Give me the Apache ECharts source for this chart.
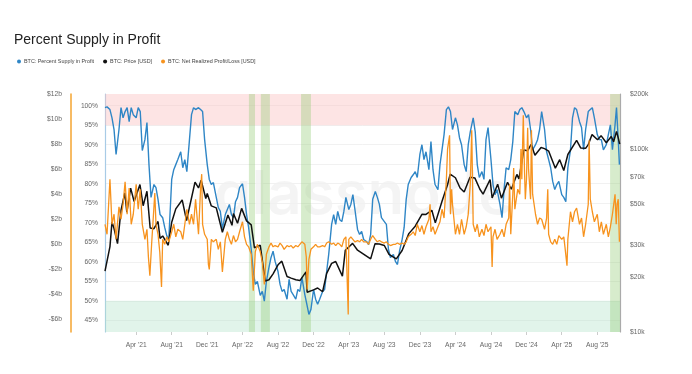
<!DOCTYPE html>
<html><head><meta charset="utf-8">
<script src="https://cdn.jsdelivr.net/npm/echarts@6/dist/echarts.min.js"></script>
<style>html,body{margin:0;padding:0;background:#fff}#c{width:692px;height:374px}</style>
</head><body><div id="c"></div>
<script>
// ---------- DATA ----------
const pctDates = ['2020-12-15','2020-12-22','2021-01-01','2021-01-08','2021-01-15','2021-01-22','2021-02-01','2021-02-08','2021-02-15','2021-02-22','2021-03-01','2021-03-08','2021-03-15','2021-03-22','2021-04-01','2021-04-08','2021-04-15','2021-04-22','2021-05-01','2021-05-08','2021-05-15','2021-05-22','2021-06-01','2021-06-08','2021-06-15','2021-06-22','2021-07-01','2021-07-08','2021-07-15','2021-07-22','2021-08-01','2021-08-08','2021-08-15','2021-08-22','2021-09-01','2021-09-08','2021-09-15','2021-09-22','2021-10-01','2021-10-08','2021-10-15','2021-10-22','2021-11-01','2021-11-08','2021-11-15','2021-11-22','2021-12-01','2021-12-08','2021-12-15','2021-12-22',
'2022-01-01','2022-01-08','2022-01-15','2022-01-22','2022-02-01','2022-02-08','2022-02-15','2022-02-22','2022-03-01','2022-03-08','2022-03-15','2022-03-22','2022-04-01','2022-04-08','2022-04-15','2022-04-22','2022-05-01','2022-05-08','2022-05-15','2022-05-22','2022-06-01','2022-06-08','2022-06-15','2022-06-22','2022-07-01','2022-07-08','2022-07-15','2022-07-22','2022-08-01','2022-08-08','2022-08-15','2022-08-22','2022-09-01','2022-09-08','2022-09-15','2022-09-22','2022-10-01','2022-10-08','2022-10-15','2022-10-22','2022-11-01','2022-11-08','2022-11-15','2022-11-22','2022-12-01','2022-12-08','2022-12-15','2022-12-22',
'2023-01-01','2023-01-08','2023-01-15','2023-01-22','2023-02-01','2023-02-08','2023-02-15','2023-02-22','2023-03-01','2023-03-08','2023-03-15','2023-03-22','2023-04-01','2023-04-08','2023-04-15','2023-04-22','2023-05-01','2023-05-08','2023-05-15','2023-05-22','2023-06-01','2023-06-08','2023-06-15','2023-06-22','2023-07-01','2023-07-08','2023-07-15','2023-07-22','2023-08-01','2023-08-08','2023-08-15','2023-08-22','2023-09-01','2023-09-08','2023-09-15','2023-09-22','2023-10-01','2023-10-08','2023-10-15','2023-10-22','2023-11-01','2023-11-08','2023-11-15','2023-11-22','2023-12-01','2023-12-08','2023-12-15','2023-12-22',
'2024-01-01','2024-01-08','2024-01-15','2024-01-22','2024-02-01','2024-02-08','2024-02-15','2024-02-22','2024-03-01','2024-03-08','2024-03-15','2024-03-22','2024-04-01','2024-04-08','2024-04-15','2024-04-22','2024-05-01','2024-05-08','2024-05-15','2024-05-22','2024-06-01','2024-06-08','2024-06-15','2024-06-22','2024-07-01','2024-07-08','2024-07-15','2024-07-22','2024-08-01','2024-08-08','2024-08-15','2024-08-22','2024-09-01','2024-09-08','2024-09-15','2024-09-22','2024-10-01','2024-10-08','2024-10-15','2024-10-22','2024-11-01','2024-11-08','2024-11-15','2024-11-22','2024-12-01','2024-12-08','2024-12-15','2024-12-22',
'2025-01-01','2025-01-08','2025-01-15','2025-01-22','2025-02-01','2025-02-08','2025-02-15','2025-02-22','2025-03-01','2025-03-08','2025-03-15','2025-03-22','2025-04-01','2025-04-08','2025-04-15','2025-04-22','2025-05-01','2025-05-08','2025-05-15','2025-05-22','2025-06-01','2025-06-08','2025-06-15','2025-06-22','2025-07-01','2025-07-08','2025-07-15','2025-07-22','2025-08-01','2025-08-08','2025-08-15','2025-08-22','2025-09-01','2025-09-08','2025-09-15','2025-09-22','2025-10-01','2025-10-06','2025-10-12','2025-10-16'];
const pctValues = [99.5,99.7,99.0,96.9,93.9,87.5,93.9,99.5,96.9,98.5,99.5,95.9,99.5,97.7,96.9,99.5,98.5,88.5,91.3,95.7,84.9,76.5,79.8,79.0,76.0,72.1,71.3,68.8,66.7,65.7,81.1,83.6,84.9,86.2,88.2,84.1,86.2,83.1,91.3,97.7,99.5,99.0,99.5,99.0,98.5,91.3,84.9,81.1,79.8,80.3,
76.5,73.9,72.9,68.5,72.1,73.4,74.7,72.1,71.3,75.4,76.5,79.0,80.0,76.5,72.1,68.8,63.2,57.5,54.2,55.0,51.4,52.4,49.9,55.0,58.6,61.1,62.7,60.1,57.5,54.2,52.4,52.9,50.4,55.5,52.4,51.6,50.4,52.9,52.4,56.0,51.6,49.1,46.5,47.8,52.9,50.4,49.1,50.4,
52.4,52.9,57.5,61.9,69.6,72.1,69.6,72.9,70.8,70.3,72.9,76.5,73.4,74.7,77.2,73.4,68.3,67.0,67.8,65.7,65.2,64.4,67.0,76.0,78.0,76.5,74.7,71.3,70.3,69.6,63.2,61.1,61.9,60.1,59.3,62.7,65.7,68.8,76.0,79.8,81.6,82.3,83.1,81.6,87.5,90.0,86.2,88.2,
83.6,90.8,83.6,79.8,78.5,84.9,88.7,92.6,99.0,99.7,98.5,93.9,96.9,95.1,91.8,90.0,84.9,83.1,90.0,93.3,96.9,93.3,84.9,81.6,83.1,81.1,91.3,94.4,86.2,79.8,77.2,78.5,74.7,71.3,78.5,84.1,83.6,86.2,90.8,98.5,97.7,99.0,99.5,98.5,96.9,97.7,93.9,88.7,
90.0,91.3,93.9,98.5,93.9,88.2,86.2,84.1,80.6,78.5,79.8,80.6,77.2,76.5,75.4,84.1,88.7,96.9,99.5,99.0,95.9,94.4,88.7,93.9,98.5,99.0,99.5,96.9,92.6,91.3,91.3,88.7,90.0,92.6,95.1,88.7,95.1,99.5,91.3,84.9];

const priceDates = ['2020-12-15','2021-01-01','2021-01-08','2021-01-15','2021-01-27','2021-02-08','2021-02-21','2021-02-28','2021-03-13','2021-03-25','2021-04-14','2021-04-25','2021-05-08','2021-05-19','2021-06-01','2021-06-15','2021-06-22','2021-07-01','2021-07-20','2021-08-01','2021-08-15','2021-09-06','2021-09-21','2021-10-01','2021-10-20','2021-11-01','2021-11-10','2021-11-26','2021-12-01','2021-12-15',
'2022-01-01','2022-01-22','2022-02-10','2022-02-24','2022-03-01','2022-03-15','2022-03-29','2022-04-15','2022-05-01','2022-05-12','2022-06-01','2022-06-18','2022-07-01','2022-07-15','2022-08-01','2022-08-14','2022-09-01','2022-09-15','2022-10-01','2022-10-15','2022-11-05','2022-11-09','2022-12-01','2022-12-15',
'2023-01-01','2023-01-15','2023-02-01','2023-02-15','2023-03-10','2023-03-20','2023-04-14','2023-05-01','2023-05-15','2023-06-15','2023-06-30','2023-07-15','2023-08-01','2023-08-17','2023-09-11','2023-10-01','2023-10-24','2023-11-15','2023-12-08','2023-12-22',
'2024-01-11','2024-01-23','2024-02-15','2024-03-05','2024-03-14','2024-04-01','2024-04-17','2024-05-01','2024-05-21','2024-06-07','2024-06-24','2024-07-05','2024-07-29','2024-08-05','2024-08-24','2024-09-06','2024-09-27','2024-10-10','2024-10-29','2024-11-05','2024-11-22','2024-12-05','2024-12-17','2024-12-30',
'2025-01-20','2025-02-01','2025-02-15','2025-03-10','2025-03-25','2025-04-08','2025-04-22','2025-05-22','2025-06-05','2025-06-22','2025-07-01','2025-07-14','2025-08-02','2025-08-14','2025-09-01','2025-09-18','2025-09-26','2025-10-06','2025-10-12','2025-10-17'];
const priceValues = [21500,29300,40000,36800,30400,46400,57500,45200,61200,51700,64000,49000,58800,37000,36700,40200,32500,33500,29800,39800,47100,52700,40600,48100,66000,61300,67500,53700,57200,48900,
47700,35100,43600,38300,44400,39300,47400,40500,38500,28900,29800,19000,19300,20800,23300,24400,20100,19700,19300,19100,21300,16500,17000,17400,
16600,20900,23700,24300,20200,28000,30500,28000,27100,25100,30400,30300,29700,26600,25100,27900,34500,37900,44000,43900,
46300,39500,51900,63800,73000,69700,61300,58300,70100,69400,60300,56700,68200,54000,64200,53900,65800,60300,72700,68700,98900,98000,106000,92600,
102000,100600,97500,78600,87500,76300,93400,111700,101500,100900,105700,120000,112500,118400,108300,117100,109700,124700,115100,106500];

const nrplDates = ['2020-12-15','2020-12-22','2021-01-01','2021-01-08','2021-01-15','2021-01-22','2021-02-01','2021-02-08','2021-02-15','2021-02-22','2021-03-01','2021-03-08','2021-03-15','2021-03-22','2021-04-01','2021-04-08','2021-04-15','2021-04-22','2021-05-01','2021-05-08','2021-05-13','2021-05-18','2021-05-24','2021-06-04','2021-06-08','2021-06-15','2021-06-21','2021-06-27','2021-07-01','2021-07-08','2021-07-15','2021-07-22','2021-08-01','2021-08-08','2021-08-15','2021-08-22','2021-09-01','2021-09-08','2021-09-15','2021-09-22','2021-10-01','2021-10-08','2021-10-15','2021-10-22','2021-11-01','2021-11-08','2021-11-12','2021-11-15','2021-11-22','2021-12-01','2021-12-05','2021-12-08','2021-12-15','2021-12-22',
'2022-01-01','2022-01-08','2022-01-15','2022-01-22','2022-02-01','2022-02-08','2022-02-15','2022-02-22','2022-03-01','2022-03-08','2022-03-15','2022-03-22','2022-04-01','2022-04-08','2022-04-15','2022-04-22','2022-05-01','2022-05-08','2022-05-15','2022-05-22','2022-06-01','2022-06-08','2022-06-15','2022-06-22','2022-07-01','2022-07-08','2022-07-15','2022-07-22','2022-08-01','2022-08-08','2022-08-15','2022-08-22','2022-09-01','2022-09-08','2022-09-15','2022-09-22','2022-10-01','2022-10-08','2022-10-15','2022-10-22','2022-11-01','2022-11-06','2022-11-09','2022-11-15','2022-11-22','2022-12-01','2022-12-08','2022-12-15','2022-12-22',
'2023-01-01','2023-01-08','2023-01-15','2023-01-22','2023-02-01','2023-02-08','2023-02-15','2023-02-22','2023-03-01','2023-03-08','2023-03-15','2023-03-22','2023-03-30','2023-04-01','2023-04-08','2023-04-15','2023-04-22','2023-05-01','2023-05-08','2023-05-15','2023-05-22','2023-06-01','2023-06-08','2023-06-15','2023-06-22','2023-07-01','2023-07-08','2023-07-15','2023-07-22','2023-08-01','2023-08-08','2023-08-15','2023-08-22','2023-09-01','2023-09-08','2023-09-15','2023-09-22','2023-10-01','2023-10-08','2023-10-15','2023-10-22','2023-11-01','2023-11-08','2023-11-15','2023-11-22','2023-12-01','2023-12-08','2023-12-15','2023-12-22',
'2024-01-01','2024-01-05','2024-01-08','2024-01-15','2024-01-22','2024-02-01','2024-02-08','2024-02-15','2024-02-22','2024-03-01','2024-03-05','2024-03-12','2024-03-15','2024-03-19','2024-03-22','2024-04-01','2024-04-08','2024-04-15','2024-04-22','2024-05-01','2024-05-08','2024-05-15','2024-05-22','2024-05-27','2024-06-01','2024-06-08','2024-06-15','2024-06-22','2024-07-01','2024-07-08','2024-07-15','2024-07-22','2024-08-01','2024-08-05','2024-08-08','2024-08-15','2024-08-22','2024-09-01','2024-09-08','2024-09-15','2024-09-22','2024-10-01','2024-10-04','2024-10-08','2024-10-15','2024-10-18','2024-10-22','2024-11-01','2024-11-08','2024-11-12','2024-11-15','2024-11-20','2024-11-24','2024-11-27','2024-12-01','2024-12-05','2024-12-08','2024-12-15','2024-12-18','2024-12-22',
'2025-01-01','2025-01-08','2025-01-15','2025-01-22','2025-02-01','2025-02-08','2025-02-12','2025-02-15','2025-02-22','2025-03-01','2025-03-08','2025-03-15','2025-03-22','2025-04-01','2025-04-08','2025-04-12','2025-04-19','2025-04-22','2025-05-01','2025-05-08','2025-05-15','2025-05-22','2025-06-01','2025-06-08','2025-06-15','2025-06-22','2025-07-01','2025-07-04','2025-07-08','2025-07-15','2025-07-22','2025-08-01','2025-08-08','2025-08-15','2025-08-22','2025-09-01','2025-09-08','2025-09-15','2025-09-22','2025-10-01','2025-10-05','2025-10-08','2025-10-12','2025-10-16'];
const nrplValues = [1.6,0.8,5.2,1.6,2.4,0.4,3.0,2.0,3.2,5.0,2.4,4.5,1.6,2.4,4.8,2.8,4.4,1.6,0.4,1.2,-1.0,-2.5,0.0,4.1,1.6,0.8,-0.6,-3.4,0.4,0.0,0.6,0.2,1.0,1.6,0.6,1.2,1.0,0.4,1.6,2.8,1.6,2.4,1.6,3.6,0.8,4.4,5.6,1.6,0.8,0.4,-1.6,-2.0,0.4,0.2,
0.4,-0.4,0.2,-2.2,0.4,1.0,0.4,0.0,0.7,0.2,0.4,1.0,1.8,0.6,0.0,-0.2,-0.8,-3.7,-0.6,0.0,-0.6,-1.4,-3.2,-0.8,-0.2,0.1,-0.2,-0.1,-0.2,0.1,-0.1,-0.4,-0.1,-0.2,-0.1,-0.3,-0.1,-0.2,0.0,0.2,0.0,-1.0,-3.6,-1.2,-0.4,-0.2,0.0,-0.2,-0.2,
-0.1,-0.2,0.1,0.2,0.0,0.1,-0.1,0.1,0.0,-0.2,0.4,0.6,-5.6,0.4,0.6,0.4,0.2,0.3,0.2,0.4,0.2,0.2,0.0,0.4,0.7,0.4,0.2,0.3,0.2,0.1,0.2,0.0,-0.1,0.0,0.0,0.1,0.0,0.1,0.0,0.2,0.6,0.8,1.0,0.7,1.6,1.0,1.5,0.8,1.4,
2.0,3.2,1.0,1.4,0.8,1.4,1.8,2.8,2.1,5.2,7.6,8.7,2.4,4.4,3.2,0.8,1.6,0.8,2.0,0.8,1.4,2.4,4.8,9.1,1.6,1.0,1.6,0.6,1.2,0.7,1.6,1.0,1.4,-1.8,0.6,1.2,0.4,0.8,1.2,0.6,1.6,2.1,4.8,0.8,4.0,6.1,2.8,4.4,4.0,7.6,5.2,10.3,6.0,3.6,5.2,9.3,6.0,3.6,9.1,4.0,
2.4,1.6,2.1,2.0,1.2,2.1,4.4,0.8,0.2,0.0,0.4,0.0,0.7,0.4,0.6,-0.2,-1.7,0.4,2.6,1.8,2.6,2.9,1.6,2.1,0.6,1.6,3.2,8.3,3.6,2.6,1.8,2.4,1.0,1.8,0.8,1.6,0.6,1.4,2.4,4.0,1.6,3.2,3.6,0.2];

// axis ticks / labels
const xTickDates = ['2021-04-01','2021-08-01','2021-12-01','2022-04-01','2022-08-01','2022-12-01','2023-04-01','2023-08-01','2023-12-01','2024-04-01','2024-08-01','2024-12-01','2025-04-01','2025-08-01'];
const pctTicks = [45,50,55,60,65,70,75,80,85,90,95,100];
const nrplTicks = [-6,-4,-2,0,2,4,6,8,10,12];
const priceTicks = [10000,20000,30000,50000,70000,100000,200000];
const xRange = ['2020-12-15','2025-10-18'];
const pctRange = [42,103];
const nrplRange = [-7,12];
const priceRange = [10000,200000];
// highlighted zones
const profitZone = [95,103];
const lossZone = [42,50];
const greenWindows = [['2022-04-23','2022-05-14'],['2022-06-03','2022-07-04'],['2022-10-19','2022-11-22'],['2025-09-14','2025-10-18']];

// ---------- CHART ----------
const toTs = s => { const p = s.split('-').map(Number); return new Date(p[0], p[1]-1, p[2]).getTime(); };
const zip = (d, v) => d.map((x, i) => [toTs(x), v[i]]);
const MONTHS = ['Jan','Feb','Mar','Apr','May','Jun','Jul','Aug','Sep','Oct','Nov','Dec'];
const xTicks = xTickDates.map(toTs);
const labelStyle = { fontSize: 6.7, color: '#666' };

const chart = echarts.init(document.getElementById('c'), null, { renderer: 'canvas' });
chart.setOption({
  animation: false,
  backgroundColor: '#ffffff',
  textStyle: { fontFamily: 'Liberation Sans, Arial, sans-serif' },
  title: { text: 'Percent Supply in Profit', left: 9, top: 28,
    textStyle: { fontSize: 14, fontWeight: 'normal', color: '#222' } },
  legend: { left: 12, top: 54, icon: 'circle', itemWidth: 4, itemHeight: 4, itemGap: 9,
    textStyle: { fontSize: 5.4, color: '#444', padding: [0, 0, 0, -2] },
    data: ['BTC: Percent Supply in Profit', 'BTC: Price [USD]', 'BTC: Net Realized Profit/Loss [USD]'] },
  graphic: [{ type: 'text', left: 214, top: 166, z: 0, silent: true,
    style: { text: 'glassnode', fontSize: 60, fontWeight: 600, fontFamily: 'Inter', fill: 'rgba(0,0,0,0.045)' } }],
  grid: { left: 105, right: 72, top: 94, bottom: 42 },
  xAxis: {
    type: 'value', min: toTs(xRange[0]), max: toTs(xRange[1]),
    axisLine: { show: false, onZero: false },
    axisTick: { show: true, customValues: xTicks, length: 3, lineStyle: { color: '#ccc' } },
    axisLabel: Object.assign({ customValues: xTicks, margin: 10, hideOverlap: false,
      formatter: v => { const d = new Date(v); return MONTHS[d.getMonth()] + " '" + String(d.getFullYear()).slice(2); } }, labelStyle),
    splitLine: { show: false }
  },
  yAxis: [
    { type: 'value', position: 'left', min: pctRange[0], max: pctRange[1],
      axisLine: { show: true, onZero: false, lineStyle: { color: '#a8cbe6', width: 1.2 } },
      axisTick: { show: false, customValues: pctTicks },
      axisLabel: Object.assign({ customValues: pctTicks, margin: 7, formatter: v => v + '%' }, labelStyle),
      splitLine: { show: true, lineStyle: { color: '#f1f1f1', width: 1 } } },
    { type: 'value', position: 'left', offset: 34, min: nrplRange[0], max: nrplRange[1],
      axisLine: { show: true, onZero: false, lineStyle: { color: '#f5a530', width: 1.5 } },
      axisTick: { show: false, customValues: nrplTicks },
      axisLabel: Object.assign({ customValues: nrplTicks, margin: 9,
        formatter: v => (v < 0 ? '-' : '') + '$' + Math.abs(v) + 'b' }, labelStyle),
      splitLine: { show: false } },
    { type: 'log', logBase: 10, position: 'right', min: priceRange[0], max: priceRange[1],
      axisLine: { show: true, onZero: false, lineStyle: { color: '#aaaaaa', width: 1.2 } },
      axisTick: { show: false, customValues: priceTicks },
      axisLabel: Object.assign({ customValues: priceTicks, margin: 10,
        formatter: v => '$' + Math.round(v / 1000) + 'k' }, labelStyle),
      splitLine: { show: false } }
  ],
  series: [
    { name: 'BTC: Percent Supply in Profit', type: 'line', yAxisIndex: 0, z: 2,
      data: zip(pctDates, pctValues), showSymbol: false, symbol: 'none',
      color: '#2f86c6', lineStyle: { width: 1.4, color: '#2f86c6' },
      markArea: { silent: true,
        data: [
          [{ yAxis: profitZone[0], itemStyle: { color: 'rgba(250,190,190,0.42)' } }, { yAxis: profitZone[1] }],
          [{ yAxis: lossZone[0], itemStyle: { color: 'rgba(175,225,200,0.38)' } }, { yAxis: lossZone[1] }]
        ].concat(greenWindows.map(w => [
          { xAxis: toTs(w[0]), itemStyle: { color: 'rgba(150,205,120,0.38)' } }, { xAxis: toTs(w[1]) }])) } },
    { name: 'BTC: Price [USD]', type: 'line', yAxisIndex: 2, z: 3,
      data: zip(priceDates, priceValues), showSymbol: false, symbol: 'none',
      color: '#111', lineStyle: { width: 1.5, color: '#111' } },
    { name: 'BTC: Net Realized Profit/Loss [USD]', type: 'line', yAxisIndex: 1, z: 4,
      data: zip(nrplDates, nrplValues), showSymbol: false, symbol: 'none',
      color: '#f7931e', lineStyle: { width: 1.3, color: '#f7931e' } }
  ]
});
</script>
</body></html>
